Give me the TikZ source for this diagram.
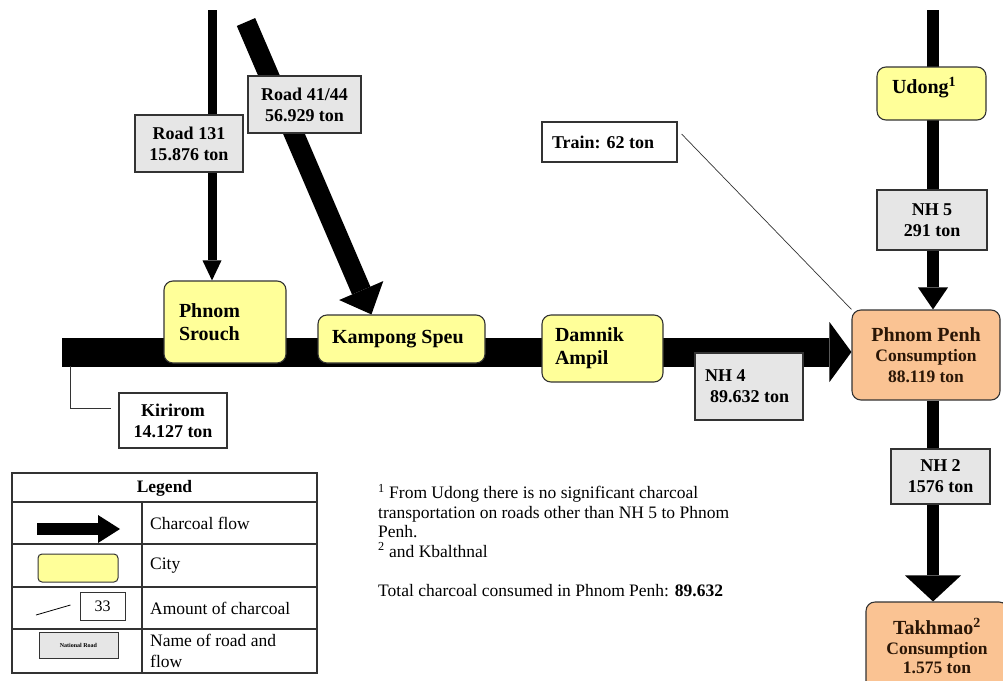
\documentclass[tikz,border=0pt]{standalone}
\usepackage{fontspec}
\setmainfont{Liberation Serif}
\usetikzlibrary{arrows.meta,backgrounds}
\definecolor{cityyellow}{HTML}{FFFF99}
\definecolor{ppOrange}{HTML}{FAC393}
\definecolor{lblgray}{HTML}{E6E6E6}
\definecolor{bordergray}{HTML}{333333}
\definecolor{ppText}{HTML}{2A1606}
\begin{document}
\begin{tikzpicture}[x=1pt,y=-1pt,
  city/.style={draw=bordergray, line width=1.1pt, fill=cityyellow, rounded corners=9pt,
    font=\fontsize{20}{23}\selectfont\bfseries, align=flush left, inner sep=0pt},
  cons/.style={draw=bordergray, line width=1.1pt, fill=ppOrange, rounded corners=9pt,
    align=center, inner sep=0pt, text=ppText, font=\fontsize{17.5}{20.5}\selectfont\bfseries},
  roadbox/.style={draw=bordergray, line width=1.2pt, fill=lblgray, align=center, inner sep=0pt,
    font=\fontsize{18}{21}\selectfont\bfseries},
  amountbox/.style={roadbox, fill=white},
  legtext/.style={anchor=west, inner sep=0pt, align=left, font=\fontsize{17.5}{21}\selectfont},
  flowline/.style={draw=black, line cap=butt}
]
\useasboundingbox (0,0) rectangle (1003,680);

% ---- cities ----
\node[city, text width=92pt, minimum width=122pt, minimum height=82pt] (ps) at (225,322) {Phnom\\Srouch};
\node[city, text width=139pt, minimum width=167pt, minimum height=48pt] (ks) at (401.5,339) {Kampong Speu};
\node[city, text width=95pt, minimum width=121pt, minimum height=67pt] (da) at (602.5,348.5) {Damnik\\Ampil};
\node[city, text width=79pt, minimum width=109pt, minimum height=53pt, text depth=16pt] (ud) at (931.5,93.5) {Udong\textsuperscript{1}};
\node[cons, minimum width=148pt, minimum height=90pt] (pp) at (926,355)
  {{\fontsize{20}{23}\selectfont Phnom Penh}\\Consumption\\88.119 ton};
\node[cons, minimum width=142pt, minimum height=88pt, font=\fontsize{17.5}{19.5}\selectfont\bfseries] (tk) at (937,646)
  {{\fontsize{20}{21}\selectfont Takhmao\textsuperscript{2}}\\Consumption\\1.575 ton};

% ---- road labels ----
\node[roadbox, minimum width=108pt, minimum height=57pt] (r131) at (189,143.5) {Road 131\\15.876 ton};
\node[roadbox, minimum width=113pt, minimum height=57pt] (r41) at (304.5,104.5) {Road 41/44\\56.929 ton};
\node[roadbox, minimum width=108pt, minimum height=67pt, text width=88pt, align=flush left] (nh4) at (749,386.5) {NH 4\\\hspace*{5pt}89.632 ton};
\node[roadbox, minimum width=110pt, minimum height=60pt] (nh5) at (932,220) {NH 5\\291 ton};
\node[roadbox, minimum width=99pt, minimum height=55pt] (nh2) at (940.5,476.5) {NH 2\\1576 ton};
\node[amountbox, minimum width=135pt, minimum height=40pt, text width=115pt, align=flush left] (train) at (609.5,142) {Train: 62 ton};
\node[amountbox, minimum width=108pt, minimum height=55pt] (kir) at (173,420.5) {Kirirom\\14.127 ton};

% ---- flows ----
\begin{scope}[on background layer]
  \coordinate (mainstart) at (62,352);
  \draw[flowline, line width=29pt, -{Triangle[length=22pt,width=60pt,line width=0pt]}]
    (mainstart) -- ([yshift=3pt]pp.west);
  \coordinate (r131start) at (212,10);
  \draw[flowline, line width=9pt, -{Triangle[length=20pt,width=19pt,line width=0pt]}]
    (r131start) -- ([xshift=-13pt]ps.north);
  \coordinate (r41start) at (246,22);
  \draw[flowline, line width=20pt, -{Triangle[length=26pt,width=48pt,line width=0pt]}]
    (r41start) -- ([xshift=54pt]ks.north west);
  \coordinate (udstart) at (933,10);
  \draw[flowline, line width=12pt, -{Triangle[length=22pt,width=30pt,line width=0pt]}]
    (udstart) -- ([xshift=7pt]pp.north);
  \draw[flowline, line width=12pt, -{Triangle[length=26pt,width=56pt,line width=0pt]}]
    ([xshift=7pt]pp.south) -- ([xshift=-4pt]tk.north);
\end{scope}

% ---- leaders ----
\coordinate (kirtop) at (70,366);
\draw[line width=0.9pt, draw=bordergray] (kirtop) |- ([xshift=-7pt,yshift=12.5pt]kir.west);
\draw[line width=0.7pt, draw=bordergray] ([xshift=4pt,yshift=8pt]train.east) -- (pp.north west);

% ---- legend ----
\draw[line width=1.2pt, draw=bordergray] (12,473) rectangle (317,673);
\draw[line width=1.2pt, draw=bordergray] (12,502) -- (317,502) (12,544) -- (317,544)
  (12,587) -- (317,587) (12,629) -- (317,629) (142,502) -- (142,673);
\node[font=\fontsize{17.5}{20}\selectfont\bfseries] (legtitle) at (164.5,488) {Legend};
\coordinate (legA) at (37,529);
\coordinate (legB) at (120,529);
\draw[flowline, line width=12pt, -{Triangle[length=22pt,width=28pt,line width=0pt]}] (legA) -- (legB);
\node[draw=bordergray, fill=cityyellow, rounded corners=4pt, line width=1pt, minimum width=80pt,
  minimum height=28pt, inner sep=0pt] (legcity) at (78,568) {};
\node[draw=bordergray, fill=white, line width=1pt, minimum width=45pt, minimum height=28pt,
  font=\fontsize{16}{19}\selectfont, inner sep=0pt] (leg33) at (102.5,606) {33};
\coordinate (legline) at (36,615);
\draw[line width=0.8pt] (legline) -- ([xshift=-9pt,yshift=1pt]leg33.west);
\node[roadbox, line width=1pt, minimum width=79pt, minimum height=26pt,
  font=\fontsize{6}{7}\selectfont\bfseries] (legroad) at (78.5,645) {National Road};
\node[legtext] (t1) at (150,523) {Charcoal flow};
\node[legtext] (t2) at (150,566) {City};
\node[legtext] (t3) at (150,608) {Amount of charcoal};
\node[legtext] (t4) at (150,651) {Name of road and\\flow};

% ---- footnotes ----
\node[anchor=north west, inner sep=0pt, align=left, font=\fontsize{17.5}{19.5}\selectfont] (notes) at (378,484)
  {\textsuperscript{1} From Udong there is no significant charcoal\\
   transportation on roads other than NH 5 to Phnom\\
   Penh.\\
   \textsuperscript{2} and Kbalthnal\\[19.5pt]
   Total charcoal consumed in Phnom Penh: \textbf{89.632}};
\end{tikzpicture}
\end{document}
